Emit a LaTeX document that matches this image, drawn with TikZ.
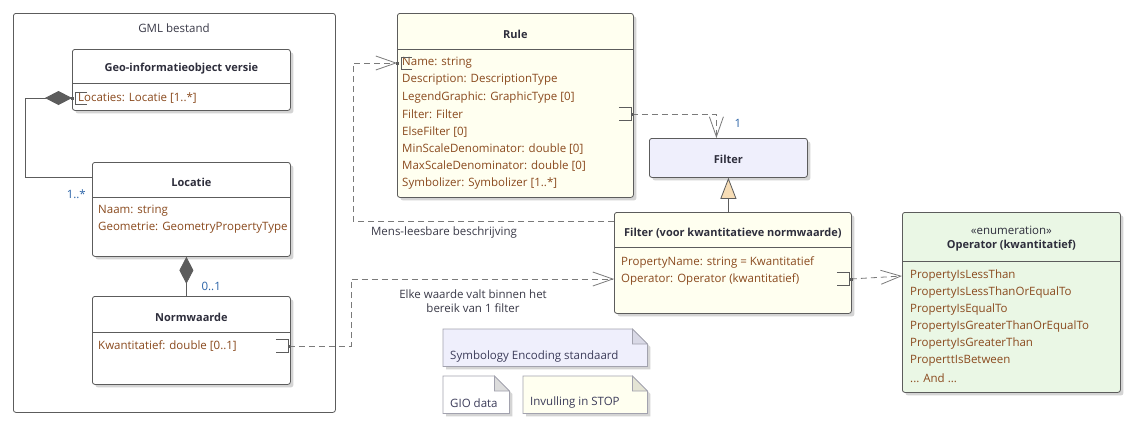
\documentclass[tikz,border=0pt]{standalone}
\usepackage{fontspec}
\setmainfont{Open Sans}
\usetikzlibrary{arrows.meta,calc,shadows}
\definecolor{bordc}{HTML}{5C5C5C}
\definecolor{shadc}{HTML}{D4D4D4}
\definecolor{attrc}{HTML}{8A4A1E}
\definecolor{titc}{HTML}{2E2E3C}
\definecolor{multc}{HTML}{2C64A8}
\definecolor{labc}{HTML}{3A3A48}
\definecolor{linec}{HTML}{7A7A7A}
\definecolor{yelc}{HTML}{FFFFF0}
\definecolor{lavc}{HTML}{EFEFFC}
\definecolor{grnc}{HTML}{EAF7E5}
\definecolor{tanc}{HTML}{F7DDB6}
\definecolor{notec}{HTML}{A2A2AE}
\definecolor{notetxt}{HTML}{3C3C5A}
\definecolor{foldlav}{HTML}{D9D9E6}
\definecolor{foldgray}{HTML}{DCDCDC}
\definecolor{foldyel}{HTML}{E4E4D4}
\newcommand\drawnote[3]{%
  \fill[shadc] ($(#1.north west)+(3,3)$) -- ($(#1.north east)+(-12,3)$) -- ($(#1.north east)+(3,18)$) -- ($(#1.south east)+(3,3)$) -- ($(#1.south west)+(3,3)$) -- cycle;
  \filldraw[draw=notec,fill=#2,line width=0.7pt] (#1.north west) -- ($(#1.north east)+(-15,0)$) -- ($(#1.north east)+(0,15)$) -- (#1.south east) -- (#1.south west) -- cycle;
  \filldraw[draw=notec,fill=#3,line width=0.7pt] ($(#1.north east)+(-15,0)$) -- ($(#1.north east)+(-15,15)$) -- ($(#1.north east)+(0,15)$) -- cycle;}
\begin{document}
\begin{tikzpicture}[x=1pt,y=-1pt,
  every node/.style={font=\fontsize{11.5}{13}\selectfont},
  box/.style={draw=bordc,line width=0.8pt,rounded corners=2.5pt,anchor=north west,inner sep=0pt,
    drop shadow={shadow xshift=3pt,shadow yshift=-3pt,fill=shadc,opacity=1}},
  frame/.style={draw=bordc,line width=0.8pt,rounded corners=2.5pt,anchor=north west,inner sep=0pt,fill=white},
  divider/.style={draw=bordc,line width=0.8pt},
  ttl/.style={font=\fontsize{11}{13}\selectfont\bfseries,text=titc,inner sep=0pt},
  attr/.style={anchor=west,inner sep=0pt,text=attrc},
  mult/.style={inner sep=0pt,text=multc},
  lab/.style={inner sep=0pt,text=labc},
  notebox/.style={anchor=north west,inner sep=0pt,draw=none},
  notelab/.style={anchor=west,inner sep=0pt,text=notetxt},
  comp/.style={draw=bordc,line width=0.8pt,-{Diamond[length=27pt,width=14pt,fill=bordc]}},
  dep/.style={draw=linec,line width=0.8pt,dash pattern=on 6pt off 4pt,-{Straight Barb[length=20pt,width=14pt,line width=0.8pt]}},
  gen/.style={draw=bordc,line width=0.8pt,-{Triangle[length=21pt,width=16pt,fill=tanc]}},
  brk/.style={draw=bordc,line width=0.6pt},
  dotm/.style={fill=bordc}
]
\useasboundingbox (0,0) rectangle (1139,429);
\fill[white] (0,0) rectangle (1139,429);

% ---------- GML bestand frame
\node[frame,minimum width=322pt,minimum height=399pt] (gml) at (13,13) {};
\node[lab] (gmlT) at (174,28) {GML bestand};

% ---------- Geo-informatieobject versie
\node[box,fill=white,minimum width=218pt,minimum height=61pt] (geo) at (72,49) {};
\draw[divider] ($(geo.north west)+(0,34)$) -- ($(geo.north east)+(0,34)$);
\node[ttl] (geoT) at ($(geo.north)+(0,20)$) {Geo-informatieobject versie};
\node[attr] (geoA) at (78,98) {Locaties: Locatie [1..*]};

% ---------- Locatie
\node[box,fill=white,minimum width=198pt,minimum height=94pt] (loc) at (92,162) {};
\draw[divider] ($(loc.north west)+(0,35)$) -- ($(loc.north east)+(0,35)$);
\node[ttl] (locT) at ($(loc.north)+(0,20)$) {Locatie};
\node[attr] (locA1) at (98,211) {Naam: string};
\node[attr] (locA2) at (98,228) {Geometrie: GeometryPropertyType};

% ---------- Normwaarde
\node[box,fill=white,minimum width=198pt,minimum height=88pt] (norm) at (92,296) {};
\draw[divider] ($(norm.north west)+(0,36)$) -- ($(norm.north east)+(0,36)$);
\node[ttl] (normT) at ($(norm.north)+(0,21)$) {Normwaarde};
\node[attr] (normA) at (98,346) {Kwantitatief: double [0..1]};

% ---------- Rule
\node[box,fill=yelc,minimum width=236pt,minimum height=184pt] (rule) at (397,13) {};
\draw[divider] ($(rule.north west)+(0,36)$) -- ($(rule.north east)+(0,36)$);
\node[ttl] (ruleT) at ($(rule.north)+(0,21)$) {Rule};
\node[attr] (ruleA1) at (402,63) {Name: string};
\node[attr] (ruleA2) at (402,80) {Description: DescriptionType};
\node[attr] (ruleA3) at (402,97.5) {LegendGraphic: GraphicType [0]};
\node[attr] (ruleA4) at (402,114.5) {Filter: Filter};
\node[attr] (ruleA5) at (402,132) {ElseFilter [0]};
\node[attr] (ruleA6) at (402,149) {MinScaleDenominator: double [0]};
\node[attr] (ruleA7) at (402,166) {MaxScaleDenominator: double [0]};
\node[attr] (ruleA8) at (402,183.5) {Symbolizer: Symbolizer [1..*]};

% ---------- Filter
\node[box,fill=lavc,minimum width=158pt,minimum height=39pt] (filt) at (649,138) {};
\node[ttl] (filtT) at ($(filt.center)+(0,1)$) {Filter};

% ---------- Filter (voor kwantitatieve normwaarde)
\node[box,fill=yelc,minimum width=237pt,minimum height=101pt] (fk) at (614,212) {};
\draw[divider] ($(fk.north west)+(0,35)$) -- ($(fk.north east)+(0,35)$);
\node[ttl] (fkT) at ($(fk.north)+(0,21)$) {Filter (voor kwantitatieve normwaarde)};
\node[attr] (fkA1) at (621,262) {PropertyName: string = Kwantitatief};
\node[attr] (fkA2) at (621,279) {Operator: Operator (kwantitatief)};

% ---------- Operator (kwantitatief)
\node[box,fill=grnc,minimum width=218pt,minimum height=180pt] (op) at (902,212) {};
\draw[divider] ($(op.north west)+(0,49)$) -- ($(op.north east)+(0,49)$);
\node[inner sep=0pt,text=titc] (opS) at ($(op.north)+(0,18)$) {«enumeration»};
\node[ttl] (opT) at ($(op.north)+(0,34)$) {Operator (kwantitatief)};
\node[attr] (opA1) at (910,276) {PropertyIsLessThan};
\node[attr] (opA2) at (910,293) {PropertyIsLessThanOrEqualTo};
\node[attr] (opA3) at (910,310) {PropertyIsEqualTo};
\node[attr] (opA4) at (910,327) {PropertyIsGreaterThanOrEqualTo};
\node[attr] (opA5) at (910,344) {PropertyIsGreaterThan};
\node[attr] (opA6) at (910,361) {ProperttIsBetween};
\node[attr] (opA7) at (910,378) {... And ...};

% ---------- Notes
\node[notebox,minimum width=204pt,minimum height=37pt] (sym) at (443,329) {};
\drawnote{sym}{lavc}{foldlav}
\node[notelab] (symT) at (450,357) {Symbology Encoding standaard};
\node[notebox,minimum width=66pt,minimum height=37pt] (gio) at (443,376) {};
\drawnote{gio}{white}{foldgray}
\node[notelab] (gioT) at (450,403) {GIO data};
\node[notebox,minimum width=124pt,minimum height=37pt] (stop) at (523,376) {};
\drawnote{stop}{yelc}{foldyel}
\node[notelab] (stopT) at (530,403) {Invulling in STOP};

% ---------- attribute link brackets
\coordinate (pGeo) at (geo.west |- geoA.west);
\draw[brk] ($(pGeo)+(15,-6)$) -- ($(pGeo)+(3,-6)$) -- ($(pGeo)+(3,6)$) -- ($(pGeo)+(15,6)$);
\coordinate (pName) at (rule.west |- ruleA1.west);
\draw[brk] ($(pName)+(15,-6)$) -- ($(pName)+(4,-6)$) -- ($(pName)+(4,6)$) -- ($(pName)+(15,6)$);
\coordinate (pRF) at (rule.east |- ruleA4.west);
\draw[brk] ($(pRF)+(-15,-7)$) -- ($(pRF)+(-3,-7)$) -- ($(pRF)+(-3,6)$) -- ($(pRF)+(-15,6)$);
\coordinate (pNorm) at (norm.east |- normA.west);
\draw[brk] ($(pNorm)+(-15,-7)$) -- ($(pNorm)+(-3,-7)$) -- ($(pNorm)+(-3,6)$) -- ($(pNorm)+(-15,6)$);
\coordinate (pFk) at (fk.east |- fkA2.west);
\draw[brk] ($(pFk)+(-15,-7)$) -- ($(pFk)+(-3,-7)$) -- ($(pFk)+(-3,6)$) -- ($(pFk)+(-15,6)$);
\coordinate (pFkIn) at (fk.west |- fkA2.west);
\coordinate (pOp) at (op.west |- opA1.west);

% ---------- connectors
% Locatie -> Geo (composition)
\draw[comp] ($(loc.north west)+(0,15)$) -| ($(pGeo)+(-47,0)$) -- (pGeo);
\fill[bordc] ($(pGeo)+(-1,-1.5)$) rectangle ($(pGeo)+(2,1.5)$);
\node[mult,anchor=south east] (m1) at ($(loc.north west)+(-6,37)$) {1..*};
% Normwaarde -> Locatie (composition)
\draw[comp] ($(norm.north)+(-5,0)$) -- ($(loc.south)+(-5,0)$);
\node[mult,anchor=west] (m2) at ($(norm.north)+(10,-10)$) {0..1};

% Rule.Filter -> Filter
\draw[dep] ($(pRF)+(-2,0)$) -| ($(filt.north)+(-12,0)$);
\fill[bordc] ($(pRF)+(-3,-1.5)$) rectangle ($(pRF)+(0,1.5)$);
\node[mult,anchor=west] (m3) at ($(filt.north)+(6,-15)$) {1};

% Filter (voor) -> Rule.Name  (Mens-leesbare beschrijving)
\draw[dep] ($(fk.north west)+(0,9)$) -| ($(pName)+(-44,0)$) -- (pName);
\fill[bordc] ($(pName)+(-1,-1.5)$) rectangle ($(pName)+(2,1.5)$);
\node[lab] (l1) at (444,233) {Mens-leesbare beschrijving};

% Normwaarde.Kwantitatief -> Filter(voor).Operator
\draw[dep] ($(pNorm)+(-2,0)$) -| ($(pFkIn)+(-263,0)$) -- (pFkIn);
\fill[bordc] ($(pNorm)+(-3,-1.5)$) rectangle ($(pNorm)+(0,1.5)$);
\node[lab,align=center] (l2) at (473,301) {Elke waarde valt binnen het\\[1pt]bereik van 1 filter};

% Filter(voor).Operator -> Operator (kwantitatief)
\draw[dep] ($(pFk)+(-1,0)$) -- (pOp);
\fill[bordc] ($(pFk)+(-2,-1.5)$) rectangle ($(pFk)+(1,1.5)$);

% Generalization
\draw[gen] (filt.south |- fk.north) -- (filt.south);
\end{tikzpicture}
\end{document}
